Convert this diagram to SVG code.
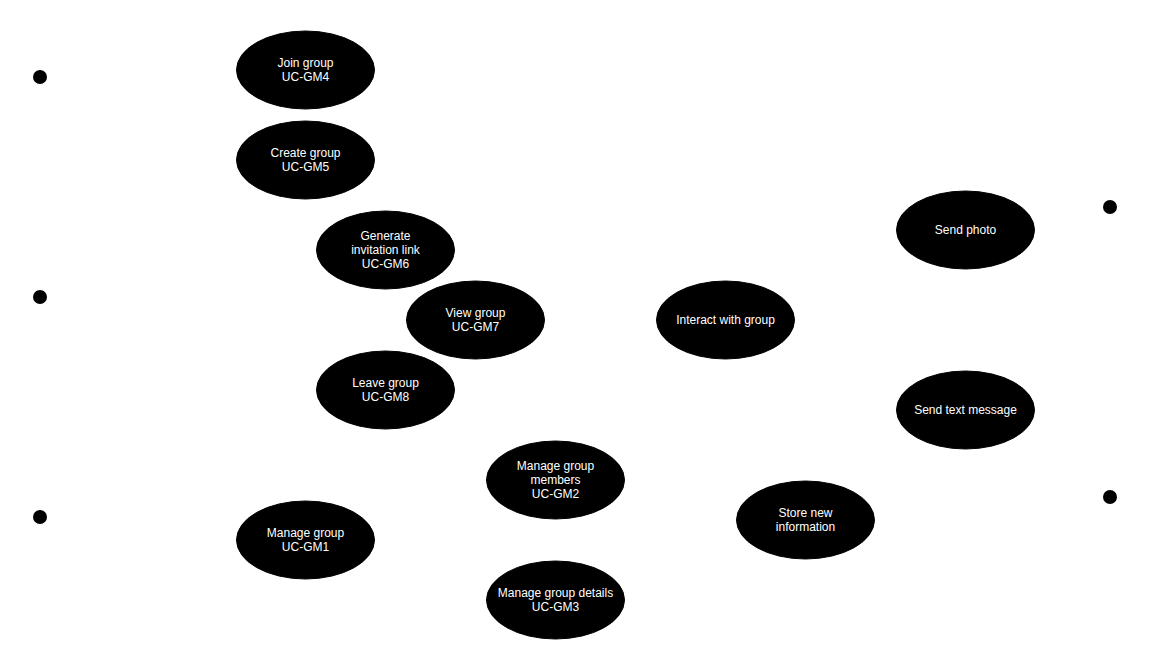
<svg xmlns="http://www.w3.org/2000/svg" width="1159" height="652" viewBox="0 0 1159 652">
<style>
.uc{fill:#000;stroke:#000;stroke-width:1}
.dot{fill:#000}
text{font-family:"Liberation Sans",Arial,sans-serif;font-size:12px;fill:#fff;text-anchor:middle}
</style>
<rect width="1159" height="652" fill="#fff"/>
<g id="actors">
<circle id="actor1" class="dot" cx="40" cy="77" r="7"/>
<circle id="actor2" class="dot" cx="40" cy="297" r="7"/>
<circle id="actor3" class="dot" cx="40" cy="517" r="7"/>
<circle id="actor4" class="dot" cx="1110" cy="207" r="7"/>
<circle id="actor5" class="dot" cx="1110" cy="497" r="7"/>
</g>
<g id="connectors"></g>
<g id="uc-gm4"><ellipse class="uc" cx="305.5" cy="70" rx="69" ry="39"/><text x="305.5" y="67">Join group</text><text x="305.5" y="81">UC-GM4</text></g>
<g id="uc-gm5"><ellipse class="uc" cx="305.5" cy="160" rx="69" ry="39"/><text x="305.5" y="157">Create group</text><text x="305.5" y="171">UC-GM5</text></g>
<g id="uc-gm6"><ellipse class="uc" cx="385.5" cy="250" rx="69" ry="39"/><text x="385.5" y="240">Generate</text><text x="385.5" y="254">invitation link</text><text x="385.5" y="268">UC-GM6</text></g>
<g id="uc-gm7"><ellipse class="uc" cx="475.5" cy="320" rx="69" ry="39"/><text x="475.5" y="317">View group</text><text x="475.5" y="331">UC-GM7</text></g>
<g id="uc-gm8"><ellipse class="uc" cx="385.5" cy="390" rx="69" ry="39"/><text x="385.5" y="387">Leave group</text><text x="385.5" y="401">UC-GM8</text></g>
<g id="uc-gm2"><ellipse class="uc" cx="555.5" cy="480" rx="69" ry="39"/><text x="555.5" y="470">Manage group</text><text x="555.5" y="484">members</text><text x="555.5" y="498">UC-GM2</text></g>
<g id="uc-gm1"><ellipse class="uc" cx="305.5" cy="540" rx="69" ry="39"/><text x="305.5" y="537">Manage group</text><text x="305.5" y="551">UC-GM1</text></g>
<g id="uc-gm3"><ellipse class="uc" cx="555.5" cy="600" rx="69" ry="39"/><text x="555.5" y="597">Manage group details</text><text x="555.5" y="611">UC-GM3</text></g>
<g id="interact"><ellipse class="uc" cx="725.5" cy="320" rx="69" ry="39"/><text x="725.5" y="324">Interact with group</text></g>
<g id="send-photo"><ellipse class="uc" cx="965.5" cy="230" rx="69" ry="39"/><text x="965.5" y="234">Send photo</text></g>
<g id="send-text"><ellipse class="uc" cx="965.5" cy="410" rx="69" ry="39"/><text x="965.5" y="414">Send text message</text></g>
<g id="store"><ellipse class="uc" cx="805.5" cy="520" rx="69" ry="39"/><text x="805.5" y="517">Store new</text><text x="805.5" y="531">information</text></g>
</svg>
